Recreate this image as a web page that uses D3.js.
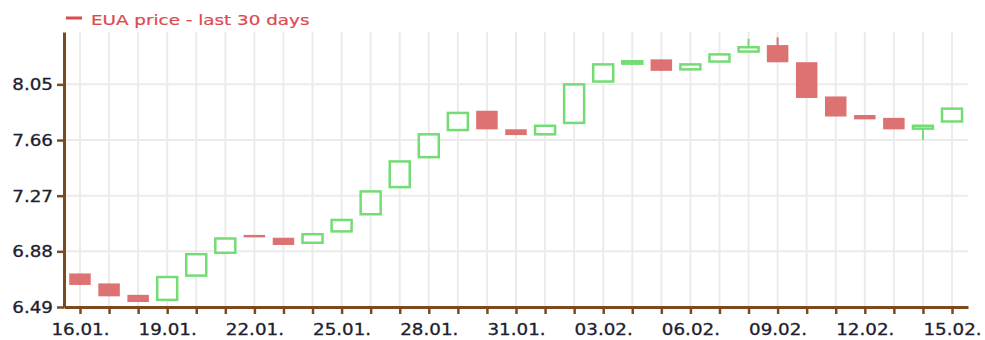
<!DOCTYPE html>
<html>
<head>
<meta charset="utf-8">
<script src="https://cdn.jsdelivr.net/npm/d3@7"></script>
<style>
  html, body { margin: 0; padding: 0; background: #fff; }
  svg { display: block; }
</style>
</head>
<body>
<div id="chart"></div>
<script>
// Daily EUA candles, last 30 days
const days = ["16.01.", "17.01.", "18.01.", "19.01.", "20.01.", "21.01.", "22.01.", "23.01.",
  "24.01.", "25.01.", "26.01.", "27.01.", "28.01.", "29.01.", "30.01.", "31.01.",
  "01.02.", "02.02.", "03.02.", "04.02.", "05.02.", "06.02.", "07.02.", "08.02.",
  "09.02.", "10.02.", "11.02.", "12.02.", "13.02.", "14.02.", "15.02."];
const openPrices  = [6.72, 6.65, 6.57, 6.54, 6.71, 6.87, 6.99, 6.97, 6.94, 7.02, 7.14, 7.33, 7.54, 7.73, 7.86, 7.73,
  7.70, 7.78, 8.07, 8.195, 8.22, 8.155, 8.21, 8.28, 8.32, 8.20, 7.96, 7.83, 7.81, 7.74, 7.79];
const closePrices = [6.65, 6.57, 6.53, 6.70, 6.86, 6.97, 6.983, 6.93, 7.00, 7.10, 7.30, 7.51, 7.70, 7.85, 7.74, 7.70,
  7.76, 8.05, 8.19, 8.212, 8.15, 8.19, 8.26, 8.31, 8.21, 7.96, 7.83, 7.81, 7.74, 7.76, 7.88];
const highPrices  = [6.72, 6.65, 6.57, 6.70, 6.86, 6.97, 6.99, 6.97, 7.00, 7.10, 7.30, 7.51, 7.70, 7.85, 7.86, 7.73,
  7.76, 8.05, 8.19, 8.212, 8.22, 8.19, 8.26, 8.37, 8.38, 8.20, 7.96, 7.83, 7.81, 7.76, 7.88];
const lowPrices   = [6.65, 6.57, 6.53, 6.54, 6.71, 6.87, 6.983, 6.93, 6.94, 7.02, 7.14, 7.33, 7.54, 7.73, 7.74, 7.70,
  7.70, 7.78, 8.07, 8.195, 8.15, 8.155, 8.21, 8.28, 8.21, 7.96, 7.83, 7.81, 7.74, 7.66, 7.79];
const yTickValues = [6.49, 6.88, 7.27, 7.66, 8.05];
const xLabelDays = ["16.01.", "19.01.", "22.01.", "25.01.", "28.01.", "31.01.", "03.02.", "06.02.", "09.02.", "12.02.", "15.02."];
const seriesName = "EUA price - last 30 days";

const W = 985, H = 340;
const plotLeft = 64, plotRight = 968, plotTop = 32, plotBottom = 307;
const upColor = "#74dc74", downColor = "#dd7272", axisColor = "#7b4a1f", gridColor = "#ebebeb";
const textColor = "#1e1e30", legendColor = "#dc4a4f";
const stretch = 1.22;

const candles = days.map((d, i) => ({
  day: d, open: openPrices[i], close: closePrices[i], high: highPrices[i], low: lowPrices[i]
}));

const svg = d3.select("#chart").append("svg").attr("width", W).attr("height", H);

const x = d3.scalePoint().domain(days).range([plotLeft, plotRight]).padding(0.55);
const y = d3.scaleLinear().domain([6.49, 8.417]).range([plotBottom, plotTop]);

// grid
const grid = svg.append("g");
grid.selectAll("line.v").data(days).join("line")
  .attr("x1", d => x(d)).attr("x2", d => x(d))
  .attr("y1", plotTop).attr("y2", plotBottom)
  .attr("stroke", gridColor).attr("stroke-width", 2);
grid.selectAll("line.h").data(yTickValues).join("line")
  .attr("x1", plotLeft).attr("x2", plotRight)
  .attr("y1", d => y(d)).attr("y2", d => y(d))
  .attr("stroke", gridColor).attr("stroke-width", 2);

// candles: hollow green when the day closed up, filled red when it closed down
const bodyW = 20;
const cg = svg.append("g");
const col = d => d.close >= d.open ? upColor : downColor;
cg.selectAll("line.wick").data(candles).join("line")
  .attr("x1", d => x(d.day)).attr("x2", d => x(d.day))
  .attr("y1", d => y(d.high)).attr("y2", d => y(d.low))
  .attr("stroke", col).attr("stroke-width", 2);
cg.selectAll("rect.body").data(candles).join("rect")
  .attr("x", d => x(d.day) - bodyW / 2)
  .attr("width", bodyW)
  .attr("y", d => y(Math.max(d.open, d.close)))
  .attr("height", d => Math.max(1, Math.abs(y(d.open) - y(d.close))))
  .attr("fill", d => d.close >= d.open ? "#fff" : downColor)
  .attr("stroke", col)
  .attr("stroke-width", d => d.close >= d.open ? 2.5 : 1.5);

// axes
const yAxis = svg.append("g").attr("transform", `translate(${plotLeft},0)`)
  .call(d3.axisLeft(y).tickValues(yTickValues).tickSize(7).tickSizeOuter(0).tickFormat(d3.format(".2f")));
const xAxis = svg.append("g").attr("transform", `translate(0,${plotBottom})`)
  .call(d3.axisBottom(x).tickSize(7).tickSizeOuter(0)
    .tickFormat(d => xLabelDays.includes(d) ? d : ""));

[yAxis, xAxis].forEach(g => {
  g.select(".domain").attr("stroke", axisColor).attr("stroke-width", 3);
  g.selectAll(".tick line").attr("stroke", axisColor).attr("stroke-width", 2.5);
  g.selectAll(".tick text")
    .attr("fill", textColor)
    .attr("stroke", textColor).attr("stroke-width", 0.3)
    .style("font-family", "'DejaVu Sans', Verdana, sans-serif")
    .style("font-size", "15px");
});
yAxis.selectAll(".tick text")
  .attr("x", null).attr("dy", "0.36em")
  .attr("transform", `translate(-11,0) scale(${stretch},1)`);
xAxis.selectAll(".tick text")
  .attr("y", null).attr("dy", 0)
  .attr("transform", `translate(0,28) scale(${stretch},1)`);

// legend
const lg = svg.append("g");
lg.append("line").attr("x1", 66).attr("x2", 82).attr("y1", 18).attr("y2", 18)
  .attr("stroke", legendColor).attr("stroke-width", 3);
lg.append("text").text(seriesName)
  .attr("transform", `translate(91,25) scale(1.31,1)`)
  .attr("fill", legendColor)
  .attr("stroke", legendColor).attr("stroke-width", 0.2)
  .style("font-family", "'DejaVu Sans', Verdana, sans-serif")
  .style("font-size", "14px");
</script>
</body>
</html>
